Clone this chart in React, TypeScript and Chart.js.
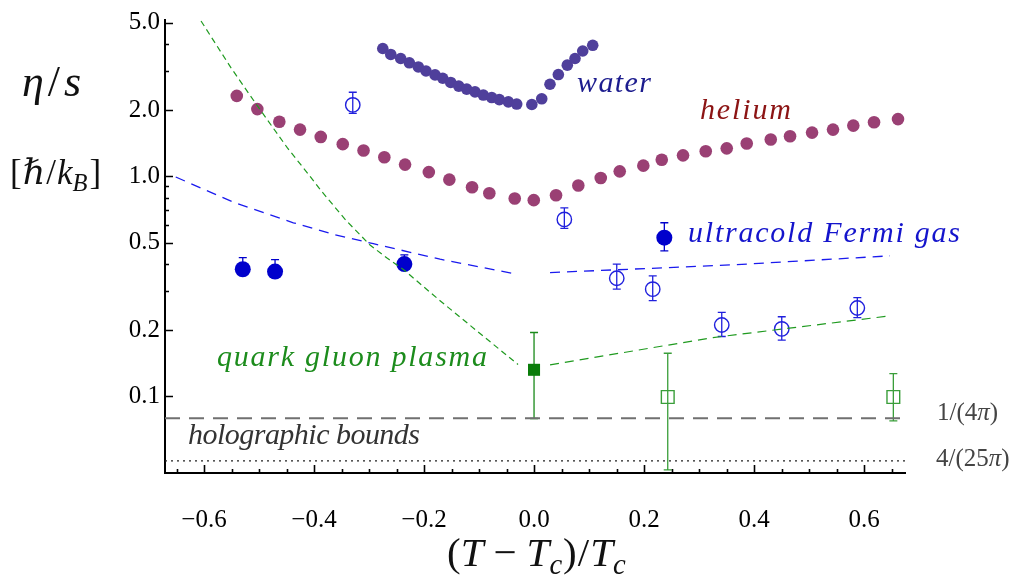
import React, { useEffect, useRef } from 'react';
import { Chart, registerables } from 'chart.js';

Chart.register(...registerables);

// ---------------- data ----------------
const waterX = [-0.275, -0.2605, -0.2424, -0.2267, -0.2104, -0.1964, -0.18, -0.166, -0.1515, -0.1369, -0.1224, -0.1073, -0.0922, -0.0769, -0.0631, -0.0467, -0.0315, -0.004, 0.014, 0.029, 0.0442, 0.0605, 0.0745, 0.0885, 0.1067];
const waterY = [3.81, 3.58, 3.43, 3.28, 3.14, 3.01, 2.89, 2.79, 2.67, 2.57, 2.49, 2.42, 2.34, 2.28, 2.23, 2.18, 2.13, 2.12, 2.25, 2.62, 2.9, 3.2, 3.43, 3.71, 3.94];

const heliumX = [-0.5405, -0.5031, -0.4631, -0.4255, -0.3878, -0.3478, -0.31, -0.2722, -0.2345, -0.1913, -0.154, -0.1127, -0.0813, -0.0351, -0.0005, 0.04, 0.0805, 0.1213, 0.1558, 0.1987, 0.2322, 0.2709, 0.3122, 0.3504, 0.3867, 0.4304, 0.4655, 0.5055, 0.5436, 0.5805, 0.6182, 0.6618];
const heliumY = [2.32, 2.02, 1.77, 1.63, 1.51, 1.4, 1.31, 1.22, 1.13, 1.045, 0.966, 0.892, 0.838, 0.793, 0.779, 0.82, 0.908, 0.982, 1.053, 1.118, 1.19, 1.245, 1.3, 1.34, 1.41, 1.47, 1.52, 1.58, 1.63, 1.7, 1.76, 1.82];

const fermiFilledX = [-0.5296, -0.4709, -0.2358, 0.2369];
const fermiFilledY = [0.378, 0.369, 0.399, 0.526];
const fermiFilledLo = [0.359, 0.35, 0.378, 0.458];
const fermiFilledHi = [0.427, 0.418, 0.439, 0.615];

const fermiOpenX = [-0.3296, 0.0551, 0.1504, 0.2158, 0.3413, 0.4504, 0.5878];
const fermiOpenY = [2.11, 0.637, 0.344, 0.307, 0.211, 0.2025, 0.252];
const fermiOpenLo = [1.93, 0.58, 0.307, 0.272, 0.187, 0.18, 0.228];
const fermiOpenHi = [2.41, 0.719, 0.399, 0.353, 0.241, 0.23, 0.281];

const qgpFilledX = [0.0];
const qgpFilledY = [0.132];
const qgpFilledLo = [0.0793];
const qgpFilledHi = [0.195];

const qgpOpenX = [0.2431, 0.6533];
const qgpOpenY = [0.0993, 0.0993];
const qgpOpenLo = [0.0463, 0.0773];
const qgpOpenHi = [0.157, 0.1267];

// theory curves
const qgpLeftX = [-0.6055, -0.5509, -0.5036, -0.4491, -0.4127, -0.3855, -0.3418, -0.2982, -0.2673, -0.2364, -0.1709, -0.0982, -0.0291];
const qgpLeftY = [5.08, 3.11, 2.1, 1.353, 1.04, 0.85, 0.63, 0.487, 0.425, 0.375, 0.272, 0.193, 0.1395];
const qgpRightX = [0.0291, 0.3255, 0.64];
const qgpRightY = [0.139, 0.185, 0.231];

const fermiLeftX = [-0.6515, -0.5455, -0.4376, -0.3649, -0.2922, -0.1709, -0.0315];
const fermiLeftY = [0.993, 0.76, 0.615, 0.545, 0.494, 0.42, 0.359];
const fermiRightX = [0.0291, 0.3624, 0.6473];
const fermiRightY = [0.365, 0.396, 0.435];

const boundKSS = 0.0796; // 1/(4 pi)
const boundGB = 0.0509; // 4/(25 pi)

const X_MIN = -0.671;
const X_MAX = 0.6745;
const Y_MIN = 0.04483;
const Y_MAX = 5.133;

const xMajorTicks = [-0.6, -0.4, -0.2, 0, 0.2, 0.4, 0.6];
const xMinorTicks = [-0.65, -0.55, -0.5, -0.45, -0.35, -0.3, -0.25, -0.15, -0.1, -0.05, 0.05, 0.1, 0.15, 0.25, 0.3, 0.35, 0.45, 0.5, 0.55, 0.65];
const yMajorTicks = [0.1, 0.2, 0.5, 1, 2, 5];
const yMinorTicks = [0.3, 0.4, 0.6, 0.7, 0.8, 0.9, 3, 4];

// ---------------- helpers ----------------
const zip = (xs: number[], ys: number[]) => xs.map((x, i) => ({ x, y: ys[i] }));
const SERIF = '"Liberation Serif", "DejaVu Serif", serif';

function fitText(ctx: CanvasRenderingContext2D, text: string, x: number, y: number, width: number, size: number, color: string, italic = true) {
  ctx.save();
  ctx.font = `${italic ? 'italic ' : ''}${size}px ${SERIF}`;
  ctx.fillStyle = color;
  ctx.textAlign = 'left';
  ctx.textBaseline = 'alphabetic';
  (ctx as any).letterSpacing = '0px';
  const w = ctx.measureText(text).width;
  const n = Array.from(text).length;
  const ls = n > 1 ? (width - w) / (n - 1) : 0;
  (ctx as any).letterSpacing = `${ls}px`;
  ctx.fillText(text, x, y);
  ctx.restore();
}

type Piece = { t: string; it?: boolean; sub?: boolean; gap?: number };
function drawMath(ctx: CanvasRenderingContext2D, pieces: Piece[], x: number, y: number, size: number, color: string) {
  ctx.save();
  ctx.fillStyle = color;
  ctx.textAlign = 'left';
  ctx.textBaseline = 'alphabetic';
  let cx = x;
  for (const p of pieces) {
    const s = p.sub ? size * 0.7 : size;
    ctx.font = `${p.it ? 'italic ' : ''}${s}px ${SERIF}`;
    const dy = p.sub ? size * 0.2 : 0;
    cx += p.gap ?? 0;
    ctx.fillText(p.t, cx, y + dy);
    cx += ctx.measureText(p.t).width;
  }
  ctx.restore();
}

const errorBars: { x: number[]; lo: number[]; hi: number[]; color: string }[] = [
  { x: fermiFilledX, lo: fermiFilledLo, hi: fermiFilledHi, color: '#0000cc' },
  { x: fermiOpenX, lo: fermiOpenLo, hi: fermiOpenHi, color: '#2020dd' },
  { x: qgpFilledX, lo: qgpFilledLo, hi: qgpFilledHi, color: '#1a8a1a' },
  { x: qgpOpenX, lo: qgpOpenLo, hi: qgpOpenHi, color: '#3a9e3a' },
];

const decorPlugin = {
  id: 'decor',
  beforeDatasetsDraw(chart: any) {
    const ctx: CanvasRenderingContext2D = chart.ctx;
    const xs = chart.scales.x;
    const ys = chart.scales.y;
    ctx.save();
    ctx.lineWidth = 1.3;
    for (const eb of errorBars) {
      ctx.strokeStyle = eb.color;
      eb.x.forEach((xv, i) => {
        const px = xs.getPixelForValue(xv);
        const pl = ys.getPixelForValue(eb.lo[i]);
        const ph = ys.getPixelForValue(eb.hi[i]);
        ctx.beginPath();
        ctx.moveTo(px, pl);
        ctx.lineTo(px, ph);
        ctx.moveTo(px - 4, pl);
        ctx.lineTo(px + 4, pl);
        ctx.moveTo(px - 4, ph);
        ctx.lineTo(px + 4, ph);
        ctx.stroke();
      });
    }
    ctx.restore();
  },
  afterDraw(chart: any) {
    const ctx: CanvasRenderingContext2D = chart.ctx;
    const xs = chart.scales.x;
    const ys = chart.scales.y;
    const area = chart.chartArea;
    ctx.save();
    ctx.strokeStyle = '#000';
    ctx.lineWidth = 1.6;
    ctx.beginPath();
    for (const v of yMajorTicks) {
      const py = Math.round(ys.getPixelForValue(v)) + 0.5;
      ctx.moveTo(area.left, py);
      ctx.lineTo(area.left + 8, py);
    }
    for (const v of yMinorTicks) {
      const py = Math.round(ys.getPixelForValue(v)) + 0.5;
      ctx.moveTo(area.left, py);
      ctx.lineTo(area.left + 4, py);
    }
    for (const v of xMajorTicks) {
      const px = Math.round(xs.getPixelForValue(v)) + 0.5;
      ctx.moveTo(px, area.bottom);
      ctx.lineTo(px, area.bottom - 8);
    }
    for (const v of xMinorTicks) {
      const px = Math.round(xs.getPixelForValue(v)) + 0.5;
      ctx.moveTo(px, area.bottom);
      ctx.lineTo(px, area.bottom - 4);
    }
    ctx.stroke();
    ctx.restore();

    // annotations
    fitText(ctx, 'water', 577, 92, 74, 30, '#1c1c8e');
    fitText(ctx, 'helium', 700, 119, 91, 30, '#8c1414');
    fitText(ctx, 'ultracold Fermi gas', 688, 242, 272, 30, '#1414cc');
    fitText(ctx, 'quark gluon plasma', 217, 366, 270, 30, '#1c8c1c');
    fitText(ctx, 'holographic bounds', 188, 444, 232, 30, '#333333');

    drawMath(ctx, [{ t: '1/(4' }, { t: 'π', it: true }, { t: ')' }], 937, 420, 25, '#444');
    drawMath(ctx, [{ t: '4/(25' }, { t: 'π', it: true }, { t: ')' }], 936, 466, 25, '#444');

    // axis titles
    drawMath(ctx, [{ t: 'η', it: true }, { t: '/', gap: 4 }, { t: 's', it: true, gap: 4 }], 22, 96, 44, '#111');
    drawMath(ctx, [{ t: '[' }, { t: 'ℏ', it: true, gap: 1 }, { t: '/', gap: 1 }, { t: 'k', it: true, gap: 1 }, { t: 'B', it: true, sub: true }, { t: ']', gap: 2 }], 10, 184, 35, '#111');
    drawMath(ctx, [
      { t: '(' }, { t: 'T', it: true }, { t: '−', gap: 10 }, { t: 'T', it: true, gap: 10 }, { t: 'c', it: true, sub: true },
      { t: ')', gap: 1 }, { t: '/', gap: 1 }, { t: 'T', it: true, gap: 1 }, { t: 'c', it: true, sub: true },
    ], 447, 566, 41, '#111');
  },
};

export default function App() {
  const ref = useRef<HTMLCanvasElement | null>(null);
  useEffect(() => {
    if (!ref.current) return;
    const lineDs = (data: any[], color: string, dash: number[], width: number) => ({
      type: 'scatter' as const,
      data,
      showLine: true,
      borderColor: color,
      backgroundColor: color,
      borderWidth: width,
      borderDash: dash,
      pointRadius: 0,
      tension: 0,
    });
    const chart = new Chart(ref.current, {
      type: 'scatter',
      data: {
        datasets: [
          lineDs(zip(qgpLeftX, qgpLeftY), '#1f9a1f', [6, 4], 1.2),
          lineDs(zip(qgpRightX, qgpRightY), '#1f9a1f', [9, 6], 1.2),
          lineDs(zip(fermiLeftX, fermiLeftY), '#1a1aee', [10, 7], 1.3),
          lineDs(zip(fermiRightX, fermiRightY), '#1a1aee', [10, 7], 1.3),
          {
            data: zip(fermiFilledX, fermiFilledY),
            pointStyle: 'circle', pointRadius: 8, borderWidth: 0,
            backgroundColor: '#0000cc', borderColor: '#0000cc',
          },
          {
            data: zip(fermiOpenX, fermiOpenY),
            pointStyle: 'circle', pointRadius: 7.2, borderWidth: 1.4,
            backgroundColor: 'rgba(0,0,0,0)', borderColor: '#2020dd',
          },
          {
            data: zip(qgpFilledX, qgpFilledY),
            pointStyle: 'rect', pointRadius: 8.5, borderWidth: 0,
            backgroundColor: '#0a7d0a', borderColor: '#0a7d0a',
          },
          {
            data: zip(qgpOpenX, qgpOpenY),
            pointStyle: 'rect', pointRadius: 9, borderWidth: 1.4,
            backgroundColor: 'rgba(0,0,0,0)', borderColor: '#3a9e3a',
          },
          {
            data: zip(waterX, waterY),
            pointStyle: 'circle', pointRadius: 5.8, borderWidth: 0,
            backgroundColor: '#4f3f9b', borderColor: '#4f3f9b',
          },
          {
            data: zip(heliumX, heliumY),
            pointStyle: 'circle', pointRadius: 6.3, borderWidth: 0,
            backgroundColor: '#9a4074', borderColor: '#9a4074',
          },
          lineDs([{ x: X_MIN, y: boundKSS }, { x: X_MAX, y: boundKSS }], '#707070', [15, 9], 2),
          lineDs([{ x: X_MIN, y: boundGB }, { x: X_MAX, y: boundGB }], '#222222', [2, 4], 1.3),
        ],
      },
      options: {
        animation: false,
        responsive: false,
        events: [],
        layout: { padding: { left: 0, top: 18, right: 122, bottom: 0 } },
        plugins: { legend: { display: false }, tooltip: { enabled: false } },
        scales: {
          x: {
            type: 'linear',
            position: 'bottom',
            min: X_MIN,
            max: X_MAX,
            grid: { display: false, drawTicks: false },
            border: { display: true, color: '#000', width: 2 },
            afterBuildTicks: (s: any) => { s.ticks = xMajorTicks.map((v) => ({ value: v })); },
            afterFit: (s: any) => { s.height = 103; },
            ticks: {
              padding: 32,
              autoSkip: false,
              maxRotation: 0,
              color: '#000',
              font: { family: SERIF, size: 25 },
              callback: (v: any) => {
                const n = Number(v);
                if (Math.abs(n) < 1e-9) return '0.0';
                return (n < 0 ? '−' : '') + Math.abs(n).toFixed(1);
              },
            },
          },
          y: {
            type: 'logarithmic',
            position: 'left',
            min: Y_MIN,
            max: Y_MAX,
            grid: { display: false, drawTicks: false },
            border: { display: true, color: '#000', width: 2 },
            afterBuildTicks: (s: any) => { s.ticks = yMajorTicks.map((v) => ({ value: v })); },
            afterFit: (s: any) => { s.width = 165; },
            ticks: {
              padding: 5,
              autoSkip: false,
              color: '#000',
              font: { family: SERIF, size: 25 },
              callback: (v: any) => Number(v).toFixed(1),
            },
          },
        },
      } as any,
      plugins: [decorPlugin],
    });
    return () => chart.destroy();
  }, []);

  return (
    <div style={{ position: 'fixed', left: 0, top: 0, width: 1027, height: 576, background: '#fff' }}>
      <canvas ref={ref} width={1027} height={576} style={{ display: 'block', width: 1027, height: 576 }} />
    </div>
  );
}
